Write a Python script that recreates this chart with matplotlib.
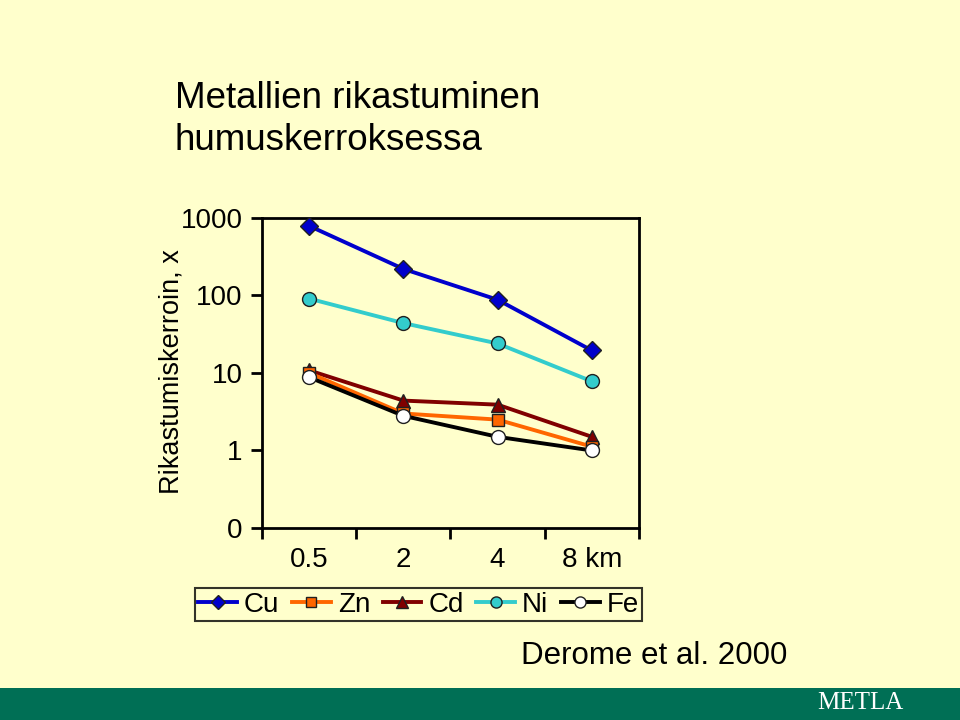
import matplotlib
matplotlib.use("Agg")
import matplotlib.pyplot as plt
from matplotlib.patches import Rectangle

distances = ['0.5', '2', '4', '8 km']
cu = [790, 220, 88, 19.5]
zn = [10, 3.0, 2.5, 1.12]
cd = [10.8, 4.4, 3.9, 1.5]
ni = [91, 44, 24, 7.8]
fe = [8.8, 2.8, 1.5, 1.0]
ytick_vals = [0.1, 1, 10, 100, 1000]
ytick_labels = ['0', '1', '10', '100', '1000']

bg = '#FFFFCC'
plt.rcParams['font.family'] = ['Liberation Sans', 'DejaVu Sans']

fig = plt.figure(figsize=(9.6, 7.2), dpi=100, facecolor=bg)
ax = fig.add_axes([0.2729, 0.2667, 0.3927, 0.4306], facecolor=bg)

x = [i + 0.5 for i in range(len(distances))]
series = [
    ('Cu', cu, '#0000CC', 'D', '#0000CC', 9),
    ('Zn', zn, '#FF6600', 's', '#FF6600', 9),
    ('Cd', cd, '#800000', '^', '#800000', 10),
    ('Ni', ni, '#33CCCC', 'o', '#33CCCC', 10),
    ('Fe', fe, '#000000', 'o', '#FFFFFF', 10),
]
draw_order = ['Cu', 'Ni', 'Cd', 'Zn', 'Fe']
handles = {}
for name, vals, col, mk, mfc, ms in series:
    z = 3 + draw_order.index(name)
    h, = ax.plot(x, vals, color=col, lw=2.8, marker=mk, markersize=ms,
                 markerfacecolor=mfc, markeredgecolor='#202020',
                 markeredgewidth=1, label=name, zorder=z, clip_on=False)
    handles[name] = h

ax.set_yscale('log')
ax.set_ylim(0.1, 1000)
ax.set_xlim(0, 4)
ax.set_yticks(ytick_vals)
ax.set_yticklabels(ytick_labels)
ax.yaxis.set_minor_locator(matplotlib.ticker.NullLocator())
ax.set_xticks(range(5))
ax.set_xticklabels([])
ax.set_xticks(x, minor=True)
ax.set_xticklabels(distances, minor=True)
ax.tick_params(axis='x', which='major', direction='out', length=8, width=2)
ax.tick_params(axis='x', which='minor', length=0, labelsize=20, pad=14)
ax.tick_params(axis='y', direction='out', length=8, width=2, labelsize=20, pad=6)
for s in ax.spines.values():
    s.set_linewidth(2)

fig.text(0.179, 0.484, 'Rikastumiskerroin, x', rotation=90, fontsize=19.5,
         ha='center', va='center')

fig.text(0.182, 0.863, 'Metallien rikastuminen', fontsize=26.5, ha='left', va='center')
fig.text(0.182, 0.805, 'humuskerroksessa', fontsize=26.5, ha='left', va='center')

leg = fig.legend([handles[n] for n in ['Cu', 'Zn', 'Cd', 'Ni', 'Fe']],
                 ['Cu', 'Zn', 'Cd', 'Ni', 'Fe'], ncol=5,
                 loc='center', bbox_to_anchor=(0.436, 0.1604),
                 fontsize=20, frameon=True, fancybox=False,
                 handlelength=1.4, handletextpad=0.25, columnspacing=0.45,
                 borderpad=0.12, borderaxespad=0, markerscale=0.8)
leg.get_frame().set_edgecolor('black')
leg.get_frame().set_linewidth(1.5)
leg.get_frame().set_facecolor(bg)

fig.text(0.681, 0.089, 'Derome et al. 2000', fontsize=22.5, ha='center', va='center')

fig.patches.append(Rectangle((0, 0), 1, 32 / 720, transform=fig.transFigure,
                             facecolor='#006F55', edgecolor='none', zorder=0))
fig.text(0.896, 0.024, 'METLA', fontsize=18, color='white', family='Liberation Serif',
         ha='center', va='center')

fig.savefig('out.png', dpi=100, facecolor=bg)
